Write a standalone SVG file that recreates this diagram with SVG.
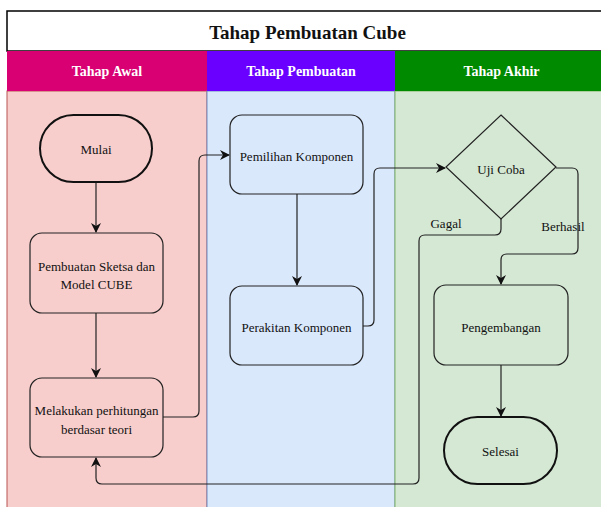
<svg xmlns="http://www.w3.org/2000/svg" width="601" height="507" viewBox="0 0 601 507">
<defs>
<style>
.lbl{font-family:"Liberation Serif","Times New Roman",serif;font-size:13px;fill:#111;text-anchor:middle;dominant-baseline:central}
.hdr{font-family:"Liberation Serif","Times New Roman",serif;font-size:14px;font-weight:bold;fill:#fff;text-anchor:middle;dominant-baseline:central}
.box{stroke:#222;stroke-width:1.2}
.term{stroke:#111;stroke-width:2}
.conn{fill:none;stroke:#222;stroke-width:1.2}
</style>
<marker id="arr" viewBox="0 0 10 10" refX="9" refY="5" markerWidth="10" markerHeight="10" markerUnits="userSpaceOnUse" orient="auto">
<path d="M0,0 L10,5 L0,10 L3,5 Z" fill="#111"/>
</marker>
</defs>
<rect width="601" height="507" fill="#fff"/>
<g id="pool">
<rect x="7" y="11" width="601" height="40" fill="#fff" stroke="#000" stroke-width="1.5"/>
<text x="307.5" y="32" class="hdr" style="fill:#111;font-size:19px">Tahap Pembuatan Cube</text>
</g>
<g id="lane-awal">
<rect x="7" y="91" width="200" height="420" fill="#f8cecc" stroke="#b85450"/>
<rect x="7" y="51" width="200" height="40" fill="#d80073"/>
<text x="107" y="71" class="hdr">Tahap Awal</text>
</g>
<g id="lane-pembuatan">
<rect x="207" y="91" width="188" height="420" fill="#dae8fc" stroke="#6c8ebf"/>
<rect x="207" y="51" width="188" height="40" fill="#6a00ff"/>
<text x="301" y="71" class="hdr">Tahap Pembuatan</text>
</g>
<g id="lane-akhir">
<rect x="395" y="91" width="213" height="420" fill="#d5e8d4" stroke="#82b366"/>
<rect x="395" y="51" width="213" height="40" fill="#008a00"/>
<text x="501.5" y="71" class="hdr">Tahap Akhir</text>
</g>
<g id="connectors">
<path class="conn" d="M96,182 V232" marker-end="url(#arr)"/>
<path class="conn" d="M96,313 V377" marker-end="url(#arr)"/>
<path class="conn" d="M163,417 H193 Q199,417 199,411 V161 Q199,155 205,155 H229" marker-end="url(#arr)"/>
<path class="conn" d="M297,194 V285" marker-end="url(#arr)"/>
<path class="conn" d="M363,326 H368 Q374,326 374,320 V174 Q374,168 380,168 H445" marker-end="url(#arr)"/>
<path class="conn" d="M556,168 H572 Q578,168 578,174 V248 Q578,254 572,254 H507 Q501,254 501,260 V284" marker-end="url(#arr)"/>
<path class="conn" d="M501,219 V229 Q501,235 495,235 H425 Q419,235 419,241 V478 Q419,484 413,484 H102 Q96,484 96,478 V458" marker-end="url(#arr)"/>
<path class="conn" d="M501,365 V416" marker-end="url(#arr)"/>
<text x="446" y="223" class="lbl">Gagal</text>
<text x="563" y="226" class="lbl">Berhasil</text>
</g>
<g id="mulai">
<rect x="40" y="115" width="112" height="67" rx="33.5" fill="#f8cecc" class="term"/>
<text x="96" y="149" class="lbl">Mulai</text>
</g>
<g id="sketsa">
<rect x="30" y="233" width="133" height="80" rx="12" fill="#f8cecc" class="box"/>
<text x="96.5" y="266" class="lbl">Pembuatan Sketsa dan</text>
<text x="96.5" y="284" class="lbl">Model CUBE</text>
</g>
<g id="perhitungan">
<rect x="30" y="378" width="133" height="79" rx="12" fill="#f8cecc" class="box"/>
<text x="96.5" y="410" class="lbl">Melakukan perhitungan</text>
<text x="96.5" y="429" class="lbl">berdasar teori</text>
</g>
<g id="pemilihan">
<rect x="230" y="115" width="133" height="79" rx="12" fill="#dae8fc" class="box"/>
<text x="296.5" y="156" class="lbl">Pemilihan Komponen</text>
</g>
<g id="perakitan">
<rect x="230" y="286" width="133" height="79" rx="12" fill="#dae8fc" class="box"/>
<text x="296.5" y="327" class="lbl">Perakitan Komponen</text>
</g>
<g id="ujicoba">
<path d="M501,115 L556,167 L501,219 L446,167 Z" fill="#d5e8d4" class="box"/>
<text x="501" y="169" class="lbl">Uji Coba</text>
</g>
<g id="pengembangan">
<rect x="434" y="285" width="134" height="80" rx="12" fill="#d5e8d4" class="box"/>
<text x="501" y="327" class="lbl">Pengembangan</text>
</g>
<g id="selesai">
<rect x="444" y="417" width="113" height="67" rx="33.5" fill="#d5e8d4" class="term"/>
<text x="500.5" y="451" class="lbl">Selesai</text>
</g>
</svg>
